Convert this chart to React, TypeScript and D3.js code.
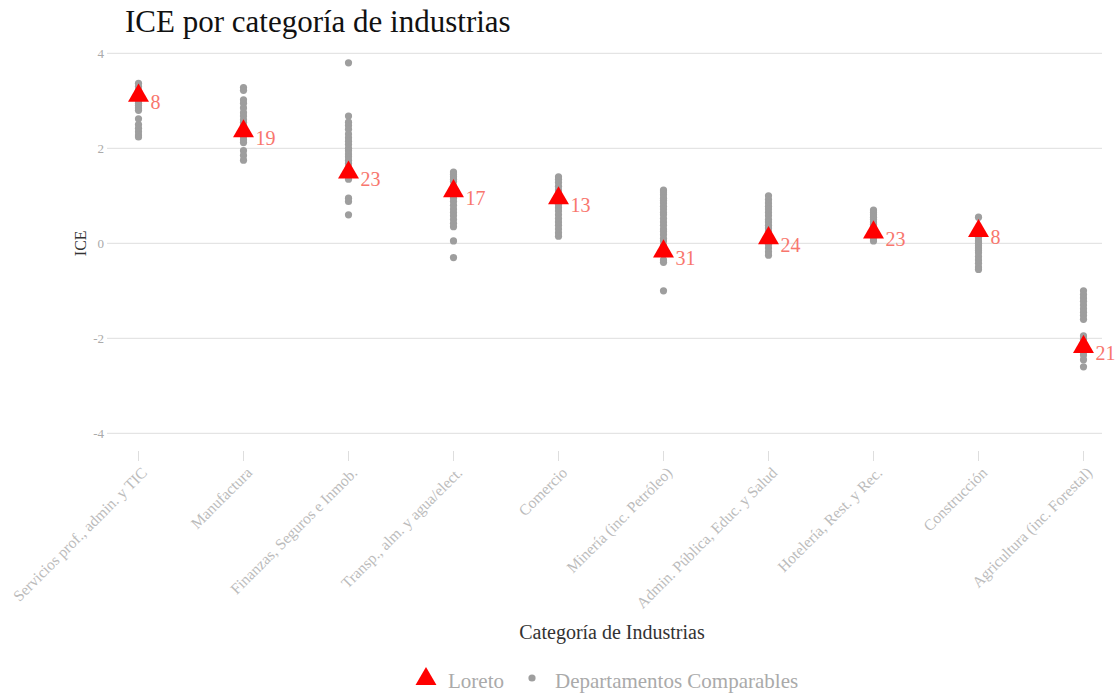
import React from "react";
import * as d3 from "d3";

const categories = [
  "Servicios prof., admin. y TIC",
  "Manufactura",
  "Finanzas, Seguros e Inmob.",
  "Transp., alm. y agua/elect.",
  "Comercio",
  "Minería (inc. Petróleo)",
  "Admin. Pública, Educ. y Salud",
  "Hotelería, Rest. y Rec.",
  "Construcción",
  "Agricultura (inc. Forestal)",
];

const loretoValues = [3.13, 2.38, 1.51, 1.12, 0.97, -0.15, 0.13, 0.25, 0.28, -2.16];
const loretoRanks = [8, 19, 23, 17, 13, 31, 24, 23, 8, 21];

const comparables: number[][] = [
  [3.37, 3.3, 3.22, 3.15, 3.08, 3.0, 2.95, 2.9, 2.85, 2.8, 2.62, 2.5, 2.42, 2.35, 2.28, 2.24],
  [3.28, 3.22, 3.02, 2.95, 2.85, 2.75, 2.68, 2.6, 2.55, 2.48, 2.42, 2.35, 2.3, 2.25, 2.18, 2.12, 1.95, 1.85, 1.75],
  [3.8, 2.68, 2.55, 2.48, 2.4, 2.3, 2.22, 2.15, 2.08, 2.0, 1.95, 1.88, 1.82, 1.75, 1.68, 1.6, 1.55, 1.48, 1.42, 1.35, 0.95, 0.88, 0.6],
  [1.5, 1.45, 1.4, 1.35, 1.3, 1.2, 1.1, 1.0, 0.95, 0.88, 0.8, 0.72, 0.65, 0.58, 0.5, 0.42, 0.35, 0.05, -0.3],
  [1.4, 1.35, 1.28, 1.2, 1.12, 1.05, 0.98, 0.9, 0.82, 0.75, 0.68, 0.6, 0.52, 0.45, 0.38, 0.3, 0.22, 0.15],
  [1.12, 1.08, 1.02, 0.95, 0.9, 0.85, 0.78, 0.72, 0.65, 0.6, 0.52, 0.45, 0.38, 0.3, 0.25, 0.18, 0.1, 0.05, -0.05, -0.1, -0.2, -0.35, -0.4, -1.0],
  [1.0, 0.92, 0.85, 0.78, 0.72, 0.65, 0.58, 0.5, 0.45, 0.38, 0.32, 0.25, 0.18, 0.1, 0.05, -0.02, -0.1, -0.18, -0.25],
  [0.7, 0.65, 0.6, 0.55, 0.5, 0.45, 0.4, 0.35, 0.3, 0.25, 0.2, 0.15, 0.1, 0.05],
  [0.55, 0.3, 0.25, 0.18, 0.12, 0.05, 0.0, -0.05, -0.1, -0.15, -0.2, -0.28, -0.35, -0.42, -0.5, -0.55],
  [-1.0, -1.08, -1.15, -1.22, -1.3, -1.38, -1.45, -1.52, -1.6, -1.95, -2.02, -2.1, -2.2, -2.28, -2.35, -2.45, -2.6],
];

const yTicks = [-4, -2, 0, 2, 4];

const W = 1119;
const H = 694;
const FONT = "'Liberation Serif', 'Times New Roman', serif";

export default function App() {
  const panelLeft = 112;
  const panelRight = 1102;
  const x = d3.scalePoint<string>().domain(categories).range([138.5, 1083.5]);
  const y = d3.scaleLinear().domain([-4, 4]).range([433.3, 53.3]);
  const tri = d3.symbol().type(d3.symbolTriangle).size(190)();
  const legendTri = d3.symbol().type(d3.symbolTriangle).size(190)();

  return (
    <svg width={W} height={H} style={{ position: "absolute", left: 0, top: 0, background: "#fff" }} fontFamily={FONT}>
      <text x={125} y={32} fontSize={31} fill="#111">ICE por categoría de industrias</text>

      {yTicks.map((t) => (
        <g key={t}>
          <line x1={panelLeft} x2={panelRight} y1={y(t)} y2={y(t)} stroke="#DEDEDE" strokeWidth={1} />
          <line x1={107} x2={112} y1={y(t)} y2={y(t)} stroke="#DEDEDE" strokeWidth={1} />
          <text x={104} y={y(t)} dy="0.35em" textAnchor="end" fontSize={13} fill="#AAAAAA">{t}</text>
        </g>
      ))}

      <text transform={`translate(86, ${y(0)}) rotate(-90)`} textAnchor="middle" fontSize={16} fill="#333">ICE</text>

      {categories.map((c) => (
        <g key={c}>
          <line x1={x(c)} x2={x(c)} y1={451} y2={461} stroke="#DEDEDE" strokeWidth={1} />
          <text
            transform={`translate(${(x(c) as number) + 2}, 466) rotate(-45)`}
            textAnchor="end"
            dy="0.7em"
            fontSize={15.5}
            fill="#BBBBBB"
          >
            {c}
          </text>
        </g>
      ))}

      {comparables.map((vals, i) =>
        vals.map((v, j) => (
          <circle key={`${i}-${j}`} cx={x(categories[i])} cy={y(v)} r={3.6} fill="#9E9E9E" />
        ))
      )}

      {loretoValues.map((v, i) => (
        <g key={i}>
          <path d={tri as string} transform={`translate(${x(categories[i])}, ${y(v) + 1})`} fill="#FF0000" />
          <text x={(x(categories[i]) as number) + 12} y={y(v)} dy="0.72em" fontSize={20} fill="#F8766D">
            {loretoRanks[i]}
          </text>
        </g>
      ))}

      <text x={612} y={639} textAnchor="middle" fontSize={20} fill="#333">Categoría de Industrias</text>

      <path d={legendTri as string} transform="translate(426, 679)" fill="#FF0000" />
      <text x={448} y={688} fontSize={21} fill="#AAAAAA">Loreto</text>
      <circle cx={532} cy={678} r={3.6} fill="#9E9E9E" />
      <text x={555} y={688} fontSize={21} fill="#AAAAAA">Departamentos Comparables</text>
    </svg>
  );
}
